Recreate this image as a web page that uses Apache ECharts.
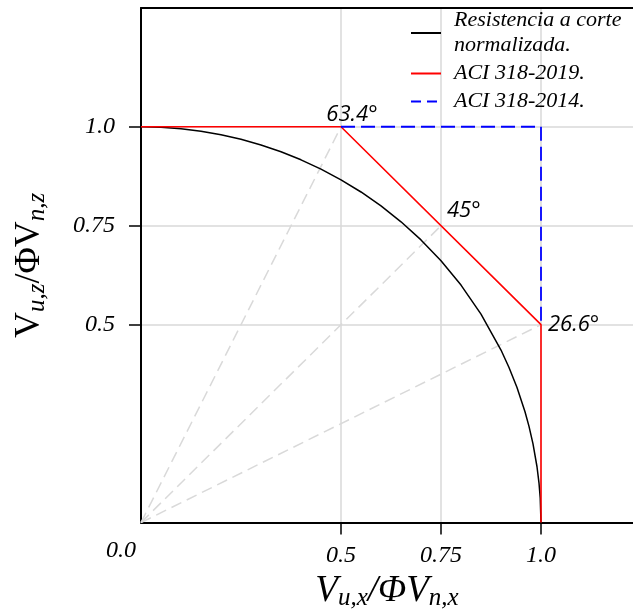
<!DOCTYPE html>
<html><head><meta charset="utf-8">
<script src="https://cdn.jsdelivr.net/npm/echarts@6/dist/echarts.min.js"></script>
<style>html,body{margin:0;padding:0;background:#fff}#c{width:633px;height:616px}</style>
</head><body><div id="c"></div>
<script>
// ---- data ----
const xTickValues = [0.5, 0.75, 1.0];
const xTickLabels = ['0.5', '0.75', '1.0'];
const yTickValues = [0.5, 0.75, 1.0];
const yTickLabels = ['0.5', '0.75', '1.0'];
const originLabel = '0.0';
const seriesNames = ['Resistencia a corte\nnormalizada.', 'ACI 318-2019.', 'ACI 318-2014.'];
const circleX = [0, 0.05, 0.1, 0.15, 0.2, 0.25, 0.3, 0.35, 0.4, 0.45, 0.5, 0.55, 0.6, 0.65, 0.7, 0.75, 0.8, 0.85, 0.9, 0.92, 0.94, 0.96, 0.97, 0.98, 0.99, 0.995, 0.998, 1.0];
const circleZ = [1.0, 0.9987, 0.995, 0.9887, 0.9798, 0.9682, 0.9539, 0.9367, 0.9165, 0.893, 0.866, 0.8352, 0.8, 0.7599, 0.7141, 0.6614, 0.6, 0.5268, 0.4359, 0.3919, 0.3412, 0.28, 0.2431, 0.199, 0.1411, 0.0999, 0.0632, 0];
const aci2019X = [0, 0.5, 1.0, 1.0];
const aci2019Z = [1.0, 1.0, 0.5, 0];
const aci2014X = [0.5, 1.0, 1.0];
const aci2014Z = [1.0, 1.0, 0.5];
const angleX = [0.5, 0.75, 1.0];
const angleZ = [1.0, 0.75, 0.5];
const angleLabels = ['63.4°', '45°', '26.6°'];

const zip = (a, b) => a.map((v, i) => [v, b[i]]);
const pick = (vals, labs) => v => { const i = vals.findIndex(t => Math.abs(t - v) < 1e-9); return i < 0 ? '' : labs[i]; };

const serif = 'Liberation Serif';
const tickFont = { fontFamily: serif, fontStyle: 'italic', fontSize: 24, color: '#000' };
const gray = '#d9d9d9';

const raySeries = angleX.map((x, i) => ({
  type: 'line', name: 'ray' + i, data: [[0, 0], [x, angleZ[i]]], symbol: 'none', silent: true, z: 1,
  lineStyle: { color: gray, width: 1.5, type: [11, 6] }
}));

const chart = echarts.init(document.getElementById('c'));
chart.setOption({
  animation: false,
  backgroundColor: '#fff',
  grid: { left: 141, right: 0, top: 8, bottom: 88, containLabel: false },
  legend: {
    data: [
      { name: seriesNames[0] },
      { name: seriesNames[1] },
      { name: seriesNames[2], lineStyle: { type: [10, 6] } }
    ],
    orient: 'vertical', left: 405, top: 3,
    itemWidth: 30, itemHeight: 14, itemGap: 3,
    itemStyle: { opacity: 0, borderWidth: 0 },
    textStyle: { fontFamily: serif, fontStyle: 'italic', fontSize: 22, lineHeight: 25, color: '#000', padding: [0, 0, 0, 8] }
  },
  xAxis: [{
    type: 'value', min: 0, max: 1.23, position: 'bottom',
    axisLine: { lineStyle: { color: '#000', width: 2 } },
    axisTick: { customValues: xTickValues, length: 12, lineStyle: { color: '#000', width: 1.5 } },
    axisLabel: Object.assign({ customValues: xTickValues, formatter: pick(xTickValues, xTickLabels), margin: 21 }, tickFont),
    splitLine: { show: false },
    name: '{v|V}{s|u,x}{v|/ΦV}{s|n,x}', nameLocation: 'middle', nameGap: 47,
    nameTextStyle: { rich: {
      v: { fontFamily: serif, fontStyle: 'italic', fontSize: 37, color: '#000', lineHeight: 40 },
      s: { fontFamily: serif, fontStyle: 'italic', fontSize: 25, color: '#000', verticalAlign: 'bottom', lineHeight: 26 }
    } }
  }, {
    type: 'value', min: 0, max: 1.23, position: 'top',
    axisLine: { lineStyle: { color: '#000', width: 2 } },
    axisTick: { show: false }, axisLabel: { show: false }, splitLine: { show: false }
  }],
  yAxis: {
    type: 'value', min: 0, max: 1.3,
    axisLine: { lineStyle: { color: '#000', width: 2 } },
    axisTick: { customValues: yTickValues, length: 12, lineStyle: { color: '#000', width: 1.5 } },
    axisLabel: Object.assign({ customValues: yTickValues, formatter: pick(yTickValues, yTickLabels), margin: 26 }, tickFont),
    splitLine: { show: false },
    name: '{v|V}{s|u,z}{v|/ΦV}{s|n,z}', nameLocation: 'middle', nameRotate: 90, nameGap: 91,
    nameTextStyle: { rich: {
      v: { fontFamily: serif, fontSize: 36, color: '#000', lineHeight: 40 },
      s: { fontFamily: serif, fontStyle: 'italic', fontSize: 25, color: '#000', verticalAlign: 'bottom', lineHeight: 26 }
    } }
  },
  series: [
    {
      type: 'line', name: 'gridlines', data: [], silent: true, z: 0,
      markLine: {
        silent: true, symbol: 'none', label: { show: false }, z: 0,
        lineStyle: { color: gray, width: 1.5, type: 'solid' },
        data: xTickValues.map(v => ({ xAxis: v })).concat(yTickValues.map(v => ({ yAxis: v })))
      }
    },
    ...raySeries,
    { type: 'line', name: seriesNames[0], data: zip(circleX, circleZ), symbol: 'none', z: 3,
      lineStyle: { color: '#000', width: 1.5 }, itemStyle: { color: '#000' } },
    { type: 'line', name: seriesNames[1], data: zip(aci2019X, aci2019Z), symbol: 'none', z: 4,
      lineStyle: { color: '#ff0000', width: 1.6 }, itemStyle: { color: '#ff0000' } },
    { type: 'line', name: seriesNames[2], data: zip(aci2014X, aci2014Z), symbol: 'none', z: 4,
      lineStyle: { color: '#0000ff', width: 1.8, type: [14, 6] }, itemStyle: { color: '#0000ff' } },
    { type: 'scatter', name: 'angles', symbolSize: 0, itemStyle: { color: '#000' }, silent: true, z: 5,
      data: angleX.map((x, i) => ({
        value: [x, angleZ[i]],
        label: { show: true, formatter: angleLabels[i], opacity: 1,
          position: i === 0 ? 'top' : 'right',
          offset: i === 0 ? [11, 4] : (i === 1 ? [1, -15] : [2, 0]),
          fontFamily: 'Open Sans', fontStyle: 'italic', fontSize: 22, color: '#000' }
      })) },
    { type: 'scatter', name: 'origin', symbolSize: 0, itemStyle: { color: '#000' }, silent: true, z: 5,
      data: [{ value: [0, 0], label: { show: true, formatter: originLabel, opacity: 1, position: 'inside', offset: [-20, 28], ...tickFont } }] }
  ]
});
</script></body></html>
